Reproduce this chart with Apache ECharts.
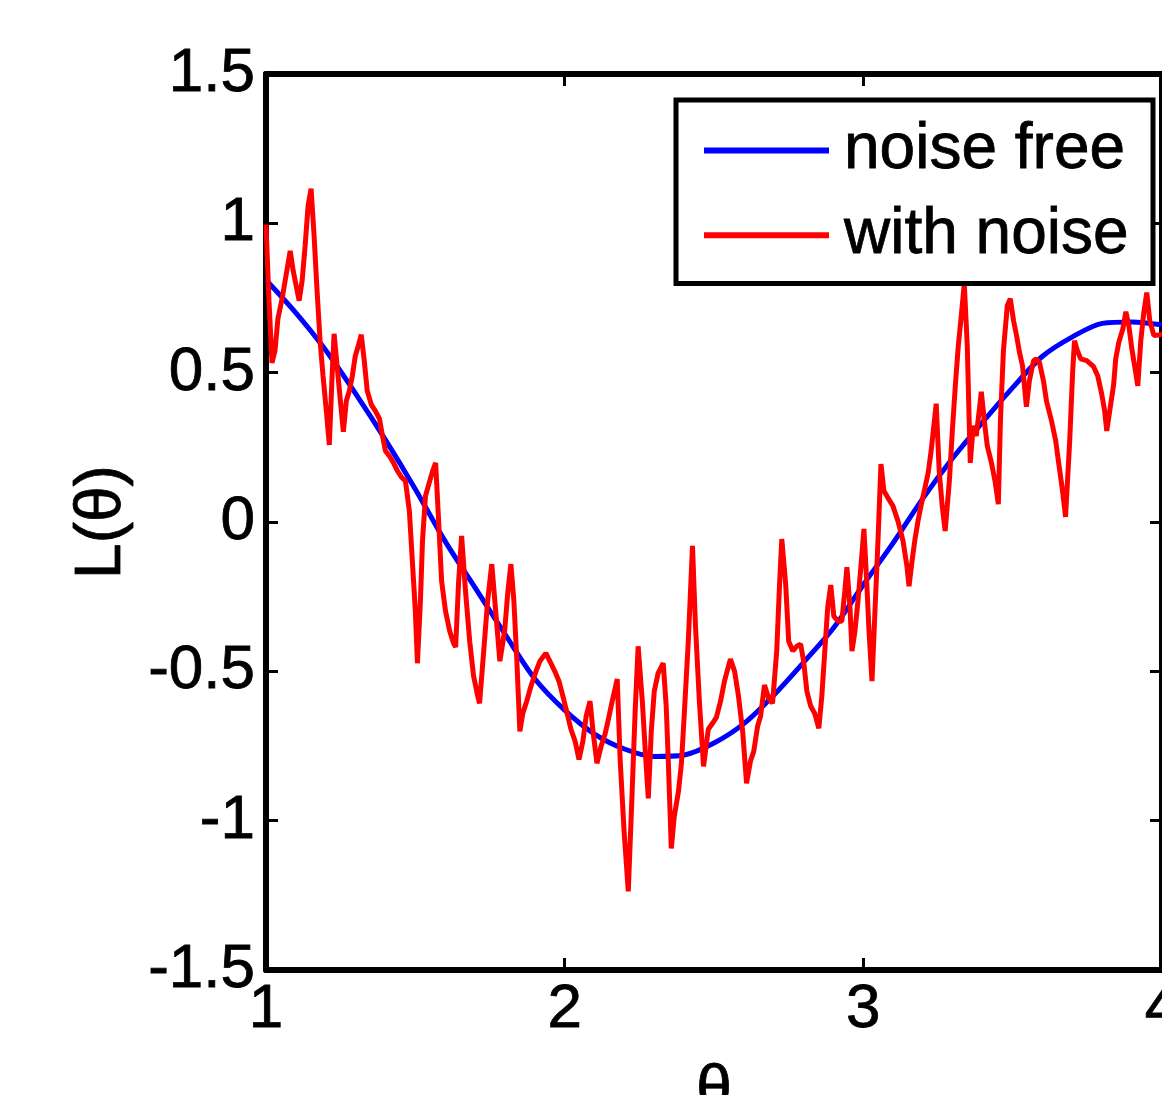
<!DOCTYPE html>
<html>
<head>
<meta charset="utf-8">
<title>L(θ)</title>
<script src="https://cdn.jsdelivr.net/npm/echarts@6/dist/echarts.min.js"></script>
<style>
  html, body { margin: 0; padding: 0; background: #fff; }
  #chart { width: 1162px; height: 1095px; }
</style>
</head>
<body>
<div id="chart"></div>
<script>
// noise free curve, read every 0.1 on theta
var thetaTicks = [1, 2, 3, 4];
var cleanX = [1.0, 1.1, 1.2, 1.3, 1.4, 1.5, 1.6, 1.7, 1.8, 1.9, 2.0, 2.1, 2.2, 2.3, 2.4, 2.5,
              2.6, 2.7, 2.8, 2.9, 3.0, 3.1, 3.2, 3.3, 3.4, 3.5, 3.6, 3.7, 3.8, 3.9, 4.0];
var cleanY = [0.81, 0.70, 0.575, 0.43, 0.275, 0.11, -0.065, -0.22, -0.375, -0.525, -0.63, -0.71,
              -0.76, -0.785, -0.78, -0.74, -0.675, -0.58, -0.47, -0.355, -0.21, -0.07, 0.08,
              0.215, 0.335, 0.45, 0.555, 0.62, 0.665, 0.67, 0.66];

// noisy curve [theta, L]
var withNoise = [
  [1.000, 0.996], [1.010, 0.741], [1.020, 0.533], [1.030, 0.573], [1.040, 0.681], [1.054, 0.748],
  [1.067, 0.825], [1.081, 0.908], [1.091, 0.841], [1.101, 0.791], [1.111, 0.741], [1.121, 0.808],
  [1.131, 0.925], [1.141, 1.059], [1.151, 1.116], [1.161, 0.959], [1.171, 0.774], [1.181, 0.607],
  [1.191, 0.489], [1.202, 0.372], [1.212, 0.258], [1.222, 0.506], [1.228, 0.630], [1.238, 0.523],
  [1.249, 0.406], [1.259, 0.302], [1.269, 0.406], [1.279, 0.439], [1.289, 0.489], [1.299, 0.556],
  [1.309, 0.590], [1.319, 0.627], [1.329, 0.540], [1.339, 0.439], [1.353, 0.392], [1.366, 0.372],
  [1.380, 0.345], [1.390, 0.288], [1.400, 0.238], [1.413, 0.221], [1.427, 0.198], [1.440, 0.171],
  [1.453, 0.151], [1.467, 0.137], [1.480, 0.037], [1.490, -0.131], [1.500, -0.298], [1.507, -0.473],
  [1.517, -0.265], [1.524, -0.064], [1.534, 0.087], [1.548, 0.137], [1.558, 0.171], [1.568, 0.198],
  [1.578, 0.003], [1.588, -0.198], [1.601, -0.298], [1.615, -0.365], [1.628, -0.406], [1.635, -0.419],
  [1.645, -0.198], [1.655, -0.047], [1.668, -0.231], [1.682, -0.399], [1.695, -0.516], [1.709, -0.583],
  [1.715, -0.607], [1.729, -0.432], [1.742, -0.265], [1.756, -0.141], [1.769, -0.298], [1.783, -0.466],
  [1.799, -0.365], [1.810, -0.231], [1.820, -0.141], [1.830, -0.265], [1.840, -0.466], [1.850, -0.701],
  [1.860, -0.640], [1.873, -0.600], [1.887, -0.550], [1.904, -0.500], [1.917, -0.466], [1.937, -0.439],
  [1.954, -0.473], [1.967, -0.500], [1.981, -0.533], [1.994, -0.583], [2.008, -0.640], [2.021, -0.694],
  [2.035, -0.734], [2.048, -0.795], [2.061, -0.734], [2.072, -0.650], [2.085, -0.600], [2.095, -0.701],
  [2.108, -0.808], [2.122, -0.751], [2.135, -0.711], [2.145, -0.667], [2.159, -0.600], [2.176, -0.526],
  [2.186, -0.801], [2.199, -1.036], [2.213, -1.237], [2.226, -0.902], [2.236, -0.634], [2.246, -0.416],
  [2.260, -0.600], [2.270, -0.768], [2.280, -0.925], [2.290, -0.701], [2.300, -0.567], [2.313, -0.506],
  [2.330, -0.473], [2.340, -0.617], [2.347, -0.801], [2.357, -1.093], [2.367, -0.986], [2.381, -0.902],
  [2.391, -0.808], [2.401, -0.634], [2.414, -0.399], [2.428, -0.080], [2.438, -0.349], [2.451, -0.600],
  [2.465, -0.818], [2.481, -0.694], [2.495, -0.674], [2.508, -0.654], [2.522, -0.600], [2.535, -0.533],
  [2.555, -0.459], [2.569, -0.500], [2.582, -0.583], [2.596, -0.701], [2.609, -0.875], [2.622, -0.801],
  [2.633, -0.768], [2.646, -0.684], [2.656, -0.650], [2.669, -0.546], [2.683, -0.590], [2.696, -0.607],
  [2.710, -0.432], [2.720, -0.198], [2.727, -0.057], [2.740, -0.208], [2.750, -0.399], [2.764, -0.432],
  [2.777, -0.416], [2.790, -0.409], [2.800, -0.466], [2.811, -0.567], [2.824, -0.617], [2.837, -0.640],
  [2.851, -0.691], [2.861, -0.583], [2.871, -0.432], [2.881, -0.282], [2.891, -0.211], [2.901, -0.315],
  [2.915, -0.332], [2.928, -0.332], [2.938, -0.231], [2.945, -0.151], [2.955, -0.282], [2.962, -0.432],
  [2.972, -0.365], [2.982, -0.265], [2.992, -0.148], [3.002, -0.023], [3.012, -0.215], [3.019, -0.365],
  [3.029, -0.533], [3.039, -0.298], [3.049, -0.064], [3.059, 0.194], [3.069, 0.104], [3.083, 0.080],
  [3.099, 0.054], [3.116, 0.003], [3.133, -0.064], [3.146, -0.148], [3.153, -0.215], [3.163, -0.131],
  [3.173, -0.057], [3.183, 0.003], [3.193, 0.054], [3.204, 0.104], [3.217, 0.164], [3.227, 0.238],
  [3.244, 0.396], [3.254, 0.171], [3.264, 0.054], [3.274, -0.030], [3.288, 0.137], [3.298, 0.305],
  [3.308, 0.456], [3.318, 0.590], [3.328, 0.691], [3.338, 0.798], [3.348, 0.590], [3.358, 0.198],
  [3.368, 0.322], [3.378, 0.288], [3.388, 0.372], [3.395, 0.436], [3.405, 0.339], [3.415, 0.255],
  [3.429, 0.198], [3.442, 0.131], [3.452, 0.060], [3.459, 0.339], [3.469, 0.573], [3.482, 0.724],
  [3.492, 0.748], [3.503, 0.674], [3.513, 0.624], [3.523, 0.567], [3.533, 0.523], [3.546, 0.386],
  [3.556, 0.473], [3.570, 0.540], [3.580, 0.546], [3.590, 0.533], [3.603, 0.473], [3.613, 0.406],
  [3.630, 0.339], [3.644, 0.272], [3.654, 0.198], [3.667, 0.104], [3.677, 0.017], [3.691, 0.272],
  [3.701, 0.506], [3.707, 0.607], [3.717, 0.573], [3.728, 0.546], [3.748, 0.540], [3.771, 0.520],
  [3.785, 0.489], [3.798, 0.429], [3.808, 0.372], [3.815, 0.305], [3.825, 0.372], [3.838, 0.459],
  [3.845, 0.546], [3.855, 0.600], [3.869, 0.647], [3.879, 0.704], [3.889, 0.657], [3.899, 0.580],
  [3.912, 0.500], [3.919, 0.456], [3.929, 0.607], [3.939, 0.701], [3.949, 0.768], [3.959, 0.674],
  [3.973, 0.624], [3.993, 0.627], [4.000, 0.630]
];

var font = '"Liberation Sans", Arial, sans-serif';
var chart = echarts.init(document.getElementById('chart'));

var cleanPts = cleanX.map(function (x, i) { return [x, cleanY[i]]; });

// a thin outline makes the glyphs a little heavier, like the original
function txt(size) {
    return { fontSize: size, color: '#000', fontFamily: font, textBorderColor: '#000', textBorderWidth: 0.8 };
}

var axisLine = { show: true, onZero: false, lineStyle: { color: '#000', width: 6 } };
var axisTick = { show: true, inside: true, length: 12, lineStyle: { color: '#000', width: 3 } };

var option = {
    animation: false,
    backgroundColor: '#fff',
    textStyle: { fontFamily: font },
    grid: { left: 266, top: 74, right: 0, bottom: 125, containLabel: false, outerBoundsMode: 'none' },
    legend: {
        orient: 'vertical',
        left: 676,
        top: 100,
        icon: 'rect',
        itemWidth: 125,
        itemHeight: 6,
        itemGap: 20,
        padding: [18, 24, 16, 28],
        borderColor: '#000',
        borderWidth: 5,
        backgroundColor: '#fff',
        textStyle: Object.assign(txt(64), { padding: [0, 0, 0, 10] }),
        data: ['noise free', 'with noise']
    },
    xAxis: [
        {
            type: 'value', position: 'bottom', min: 1, max: 4, interval: 1,
            name: 'θ', nameLocation: 'middle', nameGap: 90,
            nameTextStyle: txt(64),
            axisLine: axisLine, axisTick: axisTick,
            axisLabel: Object.assign(txt(62), { margin: 9, showMinLabel: true, showMaxLabel: true }),
            splitLine: { show: false }
        },
        {
            type: 'value', position: 'top', min: 1, max: 4, interval: 1,
            axisLine: axisLine, axisTick: axisTick,
            axisLabel: { show: false }, splitLine: { show: false }
        }
    ],
    yAxis: [
        {
            type: 'value', position: 'left', min: -1.5, max: 1.5, interval: 0.5,
            name: 'L(θ)', nameLocation: 'middle', nameRotate: 90, nameGap: 132,
            nameTextStyle: txt(64),
            axisLine: axisLine, axisTick: axisTick,
            axisLabel: Object.assign(txt(62), { margin: 11 }),
            splitLine: { show: false }
        },
        {
            type: 'value', position: 'right', min: -1.5, max: 1.5, interval: 0.5,
            axisLine: axisLine, axisTick: axisTick,
            axisLabel: { show: false }, splitLine: { show: false }
        }
    ],
    series: [
        {
            name: 'noise free',
            type: 'line',
            data: cleanPts,
            smooth: 0.3,
            symbol: 'none',
            color: '#0000ff',
            lineStyle: { color: '#0000ff', width: 5 }
        },
        {
            name: 'with noise',
            type: 'line',
            data: withNoise,
            symbol: 'none',
            color: '#ff0000',
            lineStyle: { color: '#ff0000', width: 5 }
        }
    ]
};

chart.setOption(option);
</script>
</body>
</html>
